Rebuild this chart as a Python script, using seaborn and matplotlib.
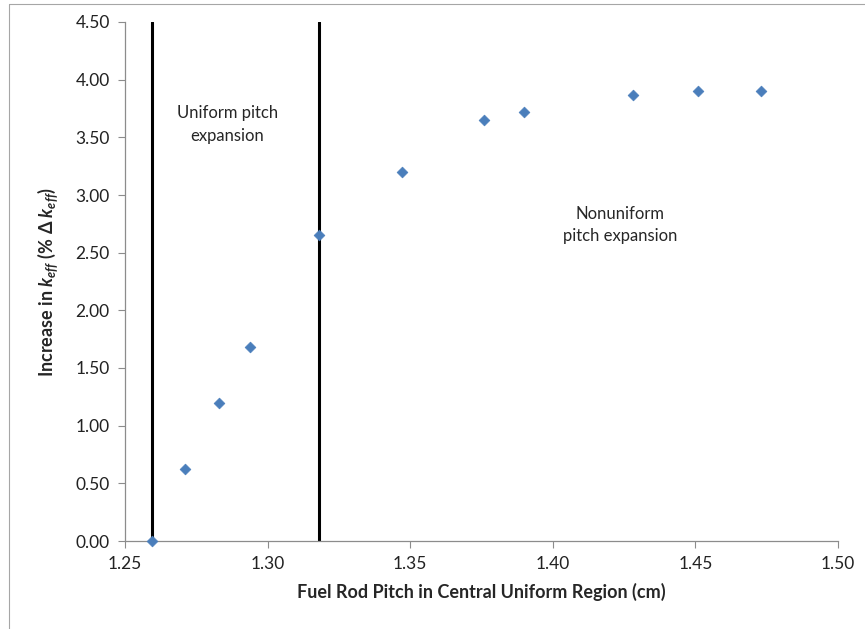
import matplotlib.pyplot as plt
import seaborn as sns
import pandas as pd

# pitch (cm) vs increase in k_eff (% dk)
pitch = [1.2595, 1.271, 1.283, 1.294, 1.318, 1.347, 1.376, 1.390, 1.428, 1.451, 1.473]
dk = [0.0, 0.62, 1.20, 1.68, 2.65, 3.20, 3.65, 3.72, 3.87, 3.90, 3.90]
boundaries = [1.2595, 1.318]

df = pd.DataFrame({"pitch": pitch, "dk": dk})

sns.set_style("white")
plt.rcParams['font.family'] = ['Lato', 'DejaVu Sans']
plt.rcParams['mathtext.fontset'] = 'custom'
plt.rcParams['mathtext.it'] = 'Lato:italic:bold'
plt.rcParams['mathtext.rm'] = 'Lato:bold'
plt.rcParams['mathtext.bf'] = 'Lato:bold'

fig = plt.figure(figsize=(8.65, 6.29), dpi=100)
ax = fig.add_axes([125 / 865, 1 - 541 / 629, 713 / 865, 519 / 629])

for b in boundaries:
    ax.axvline(b, color="black", lw=2.2, zorder=1)

sns.scatterplot(data=df, x="pitch", y="dk", marker="D", s=30, color="#4a7ebb",
                edgecolor="#4a7ebb", linewidth=0.5, ax=ax, zorder=3, clip_on=False)

ax.set_xlim(1.25, 1.50)
ax.set_ylim(0, 4.5)
ax.set_xticks([1.25, 1.30, 1.35, 1.40, 1.45, 1.50])
ax.set_yticks([i * 0.5 for i in range(10)])
ax.set_xticklabels([f"{v:.2f}" for v in ax.get_xticks()])
ax.set_yticklabels([f"{v:.2f}" for v in ax.get_yticks()])
ax.tick_params(axis="both", labelsize=12.5, colors="#222222", length=5, width=0.8,
               direction="out", bottom=True, left=True, pad=6)
ax.tick_params(axis="both", color="#8c8c8c")

for s in ["top", "right"]:
    ax.spines[s].set_visible(False)
for s in ["left", "bottom"]:
    ax.spines[s].set_color("#8c8c8c")
    ax.spines[s].set_linewidth(0.9)

ax.set_xlabel("Fuel Rod Pitch in Central Uniform Region (cm)", fontsize=13,
              fontweight="bold", labelpad=8)
ax.set_ylabel(r"Increase in $k_{eff}$ (% $\Delta$ $k_{eff}$)", fontsize=13,
              fontweight="bold", labelpad=10)

ax.text(1.2858, 3.61, "Uniform pitch\nexpansion", ha="center", va="center",
        fontsize=12, linespacing=1.5)
ax.text(1.4236, 2.74, "Nonuniform\npitch expansion", ha="center", va="center",
        fontsize=12, linespacing=1.5)

# chart-area border (right and bottom edges fall outside the image)
fig.add_artist(plt.Line2D([9 / 865, 9 / 865], [0, 1 - 3.5 / 629],
                          transform=fig.transFigure, color="#a6a6a6", lw=0.8))
fig.add_artist(plt.Line2D([9 / 865, 1], [1 - 3.5 / 629, 1 - 3.5 / 629],
                          transform=fig.transFigure, color="#a6a6a6", lw=0.8))

fig.savefig("out.png", dpi=100)
